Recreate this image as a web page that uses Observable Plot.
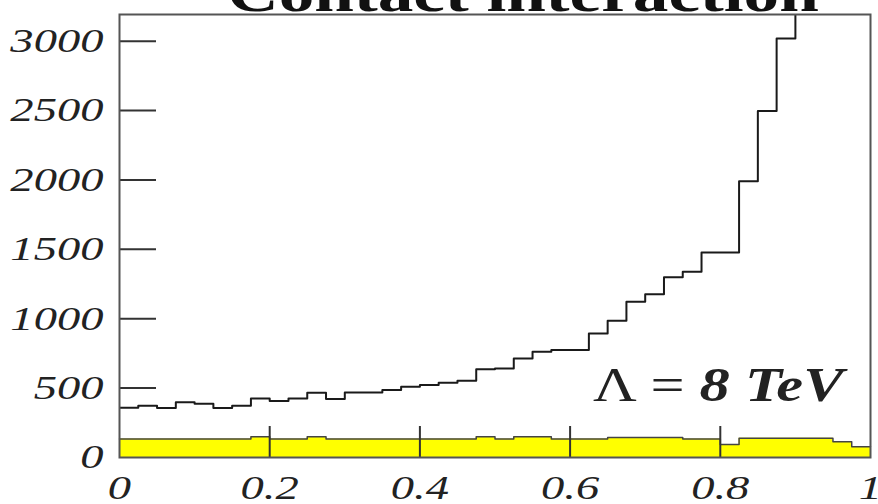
<!DOCTYPE html>
<html><head><meta charset="utf-8">
<script src="https://cdn.jsdelivr.net/npm/d3@7"></script>
<script src="https://cdn.jsdelivr.net/npm/@observablehq/plot@0.6"></script>
<style>body{margin:0;background:#fff;overflow:hidden}</style>
</head><body><div id="chart"></div>
<script>
const binWidth = 0.025;
const signal = [358,372,356,399,387,356,372,426,408,426,466,421,469,469,486,509,522,538,553,635,642,714,762,774,774,894,985,1122,1177,1298,1338,1478,1478,1991,2496,3019,3700,4500,5600,7000];
const background = [133,133,133,133,133,133,133,149,133,133,149,133,133,133,133,133,133,133,133,149,133,149,149,133,133,133,145,145,145,145,133,133,94,138,138,138,138,138,113,77];
const yTicks = [0,500,1000,1500,2000,2500,3000];
const yTickLabels = ["0","500","1000","1500","2000","2500","3000"];
const xTicks = [0,0.2,0.4,0.6,0.8,1];
const xTickLabels = ["0","0.2","0.4","0.6","0.8","1"];
const title = "Contact interaction";
const annotationSymbol = "Λ = ";
const annotationValue = "8 TeV";

const toSteps = vals => vals.map((v,i)=>({x: i*binWidth, y: v})).concat([{x: vals.length*binWidth, y: vals[vals.length-1]}]);
const sigSteps = toSteps(signal);
const bgSteps = toSteps(background);

const svg = Plot.plot({
  width: 878, height: 504,
  marginLeft: 119, marginRight: 8, marginTop: 14, marginBottom: 47,
  style: {fontFamily: "'Liberation Serif', 'Times New Roman', serif", background: "white", overflow: "visible"},
  x: {domain: [0,1]},
  y: {domain: [0,3192]},
  marks: [
    Plot.areaY(bgSteps, {x:"x", y:"y", curve:"step-after", fill:"#ffff00"}),
    Plot.lineY(bgSteps, {x:"x", y:"y", curve:"step-after", stroke:"#444", strokeWidth:1.5}),
    Plot.lineY(sigSteps, {x:"x", y:"y", curve:"step-after", stroke:"#1a1a1a", strokeWidth:2, clip:true}),
    Plot.ruleY(yTicks.filter(d=>d>0), {stroke:"#333", strokeWidth:2, insetRight:714}),
    Plot.ruleX(xTicks.slice(1,-1), {stroke:"#333", strokeWidth:2, insetTop:412}),
    Plot.frame({stroke:"#555", strokeWidth:2}),
    Plot.axisY({ticks: yTicks, tickFormat: d => yTickLabels[yTicks.indexOf(d)], label: null, tickSize:0, tickPadding:16, fontSize:34, fontStyle:"italic", fill:"#222"}),
    Plot.axisX({ticks: xTicks, tickFormat: d => xTickLabels[xTicks.indexOf(d)], label: null, tickSize:0, tickPadding:17, fontSize:34, fontStyle:"italic", fill:"#222"}),
    Plot.text([title], {frameAnchor:"top", dx:28, dy:-4, lineAnchor:"bottom", fontSize:52, fontWeight:"bold", fill:"#111"}),
    Plot.text([annotationSymbol + annotationValue], {frameAnchor:"bottom-right", dx:-27, dy:-57, textAnchor:"end", lineAnchor:"bottom", fontSize:48, fill:"#222"})
  ]
});

// horizontal stretch of the original raster
svg.querySelectorAll('g[aria-label="y-axis tick label"] text, g[aria-label="x-axis tick label"] text').forEach(t => {
  t.setAttribute("transform", (t.getAttribute("transform")||"") + " scale(1.37,1)");
});
svg.querySelectorAll('g[aria-label="text"] text').forEach(t => {
  const txt = t.textContent;
  if (txt === title) {
    t.setAttribute("transform", (t.getAttribute("transform")||"") + " scale(1.37,1)");
  } else if (txt === annotationSymbol + annotationValue) {
    t.textContent = "";
    const ns = "http://www.w3.org/2000/svg";
    const a = document.createElementNS(ns, "tspan"); a.textContent = annotationSymbol;
    const b = document.createElementNS(ns, "tspan"); b.textContent = annotationValue;
    b.setAttribute("font-weight", "bold"); b.setAttribute("font-style", "italic");
    t.append(a, b);
    t.setAttribute("transform", (t.getAttribute("transform")||"") + " scale(1.26,1)");
  }
});
document.getElementById("chart").append(svg);
</script>
</body></html>
